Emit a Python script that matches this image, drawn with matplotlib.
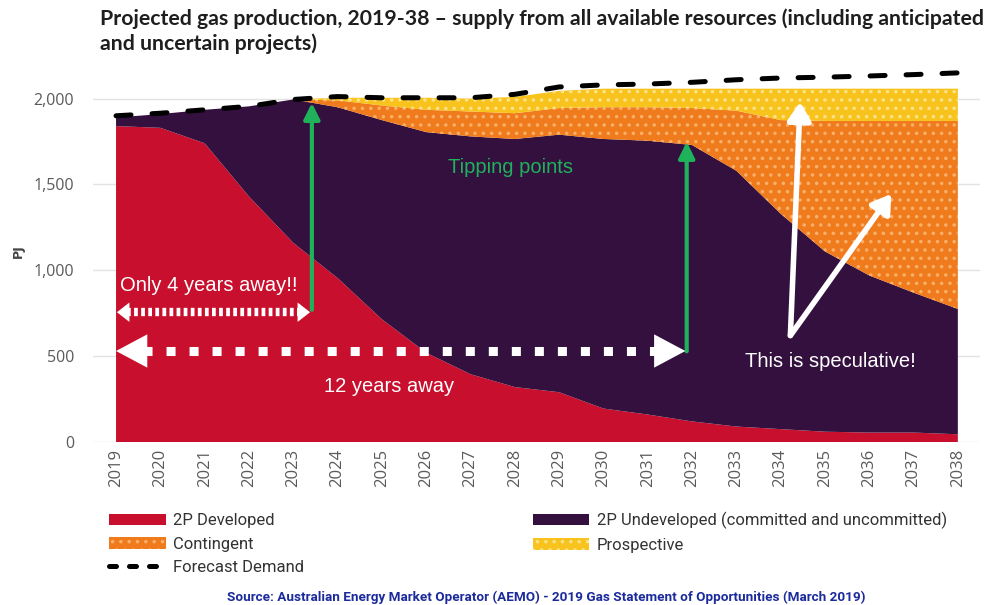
import numpy as np
import matplotlib.pyplot as plt
from matplotlib.patches import Patch
from matplotlib.lines import Line2D

years = list(range(2019, 2039))

developed = [1840, 1830, 1740, 1430, 1160, 955, 715, 520, 395, 320,
             290, 195, 160, 120, 90, 75, 60, 55, 55, 45]
undev_top = [1890, 1910, 1935, 1955, 1995, 1950, 1875, 1805, 1780, 1765,
             1790, 1765, 1755, 1730, 1580, 1330, 1110, 970, 870, 775]
contingent_top = [1890, 1910, 1935, 1955, 1995, 1990, 1960, 1935, 1925, 1915,
                  1945, 1950, 1950, 1945, 1930, 1875, 1870, 1870, 1870, 1870]
prospective_top = [1890, 1910, 1935, 1955, 1995, 2005, 2005, 2005, 2000, 2010,
                   2045, 2058, 2058, 2058, 2058, 2058, 2058, 2058, 2058, 2058]
demand = [1900, 1915, 1935, 1955, 1995, 2012, 2005, 2005, 2005, 2025,
          2068, 2080, 2085, 2095, 2110, 2120, 2125, 2132, 2140, 2150]

undeveloped = np.array(undev_top) - np.array(developed)

c_red = '#c8102e'
c_purple = '#33103e'
c_orange = '#f07b1c'
c_yellow = '#f8c31d'
c_green = '#1fb25a'
dot_orange = '#f9b06a'
dot_yellow = '#fce28a'

narrow = ['Liberation Sans Narrow', 'Roboto', 'DejaVu Sans']

fig = plt.figure(figsize=(9.93, 6.05), dpi=100)
ax = fig.add_axes([93 / 993, 1 - 442 / 605, 887 / 993, 382 / 605])

x = np.array(years)
plt.rcParams['hatch.linewidth'] = 1.3
ax.stackplot(x, developed, undeveloped, colors=[c_red, c_purple], lw=0)
ax.fill_between(x, undev_top, contingent_top, facecolor=c_orange, edgecolor=dot_orange,
                hatch='..', lw=0)
ax.fill_between(x, contingent_top, prospective_top, facecolor=c_yellow, edgecolor=dot_yellow,
                hatch='..', lw=0)
ax.plot(x, demand, color='black', lw=3.6, dashes=(3.0, 4.2), dash_capstyle='round')

ax.set_xlim(2018.48, 2038.5)
ax.set_ylim(0, 2225)
ax.set_yticks([0, 500, 1000, 1500, 2000])
ax.set_yticklabels(['0', '500', '1,000', '1,500', '2,000'])
ax.set_xticks(years)
ax.set_xticklabels([str(y) for y in years], rotation=90)
ax.tick_params(length=0, labelsize=11.5, colors='#5a5a5a')
ax.tick_params(axis='x', labelsize=12, pad=5)
ax.tick_params(axis='y', pad=13.5)
for lab in ax.get_yticklabels() + ax.get_xticklabels():
    lab.set_family('Open Sans')
ax.grid(axis='y', color='#e3e3e3', lw=1)
ax.set_axisbelow(True)
for s in ax.spines.values():
    s.set_visible(False)
ax.set_ylabel('PJ', fontsize=9, fontweight='bold', color='#444444', labelpad=6)

# tipping point arrows
green_arrow = dict(arrowstyle='-|>,head_length=0.6,head_width=0.3', color=c_green,
                   lw=3, mutation_scale=16, shrinkA=0, shrinkB=0)
ax.annotate('', xy=(2023.42, 1975), xytext=(2023.42, 770), arrowprops=green_arrow)
ax.annotate('', xy=(2031.88, 1748), xytext=(2031.88, 528), arrowprops=green_arrow)

# dotted double arrow (4 years)
small_head = dict(arrowstyle='-|>,head_length=0.45,head_width=0.35', color='white',
                  lw=0, mutation_scale=20, shrinkA=0, shrinkB=0)
ax.plot([2019.25, 2023.1], [756, 756], color='white', lw=6, dashes=(0.45, 0.4))
ax.annotate('', xy=(2019.02, 756), xytext=(2019.3, 756), arrowprops=small_head)
ax.annotate('', xy=(2023.38, 756), xytext=(2023.1, 756), arrowprops=small_head)

# dashed double arrow (12 years)
big_head = dict(arrowstyle='-|>,head_length=0.75,head_width=0.4', color='white',
                lw=0, mutation_scale=30, shrinkA=0, shrinkB=0)
ax.plot([2019.6, 2031.3], [530, 530], color='white', lw=6.5, dashes=(1, 1.55))
ax.annotate('', xy=(2019.0, 530), xytext=(2019.6, 530), arrowprops=big_head)
ax.annotate('', xy=(2031.85, 530), xytext=(2031.25, 530), arrowprops=big_head)

# speculative V arrows
v_arrow = dict(arrowstyle='-|>,head_length=0.55,head_width=0.35', color='white',
               lw=4, mutation_scale=20, shrinkA=0, shrinkB=0)
ax.annotate('', xy=(2034.44, 1980), xytext=(2034.22, 620), arrowprops=v_arrow)
ax.annotate('', xy=(2036.5, 1445), xytext=(2034.22, 620), arrowprops=v_arrow)

ax.text(2019.1, 910, 'Only 4 years away!!', color='white', fontsize=14.5,
        family='Liberation Sans', va='center')
ax.text(2023.7, 325, '12 years away', color='white', fontsize=14.5,
        family='Liberation Sans', va='center')
ax.text(2026.5, 1600, 'Tipping points', color=c_green, fontsize=14.5,
        family='Liberation Sans', va='center')
ax.text(2033.2, 470, 'This is speculative!', color='white', fontsize=14.5,
        family='Liberation Sans', va='center')

fig.text(100 / 993, 1 - 8 / 605, 'Projected gas production, 2019-38 \u2013 supply from all available resources (including anticipated\nand uncertain projects)',
         fontsize=15.3, fontweight='bold', family='Lato', color='#1e1e1e',
         va='top', ha='left', linespacing=1.3)

handles = [
    Patch(facecolor=c_red, label='2P Developed'),
    Patch(facecolor=c_orange, hatch='..', edgecolor=dot_orange, lw=0, label='Contingent'),
    Line2D([0], [0], color='black', lw=3.6, dashes=(1.4, 2.6), dash_capstyle='round', label='Forecast Demand'),
    Patch(facecolor=c_purple, label='2P Undeveloped (committed and uncommitted)'),
    Patch(facecolor=c_yellow, hatch='..', edgecolor=dot_yellow, lw=0, label='Prospective'),
]
fig.legend(handles=handles, loc='upper left', bbox_to_anchor=(94 / 993, 1 - 497 / 605),
           ncol=2, frameon=False, prop={'family': narrow, 'size': 12},
           handlelength=3.4, handleheight=0.7, handletextpad=0.45,
           columnspacing=13.7, labelspacing=0.5, labelcolor='#333333')

fig.text(546 / 993, 1 - 597 / 605, 'Source: Australian Energy Market Operator (AEMO) - 2019 Gas Statement of Opportunities (March 2019)',
         ha='center', va='center', fontsize=9.7, fontweight='bold', family=narrow, color='#1b2a9c')

fig.savefig('out.png', dpi=100)
